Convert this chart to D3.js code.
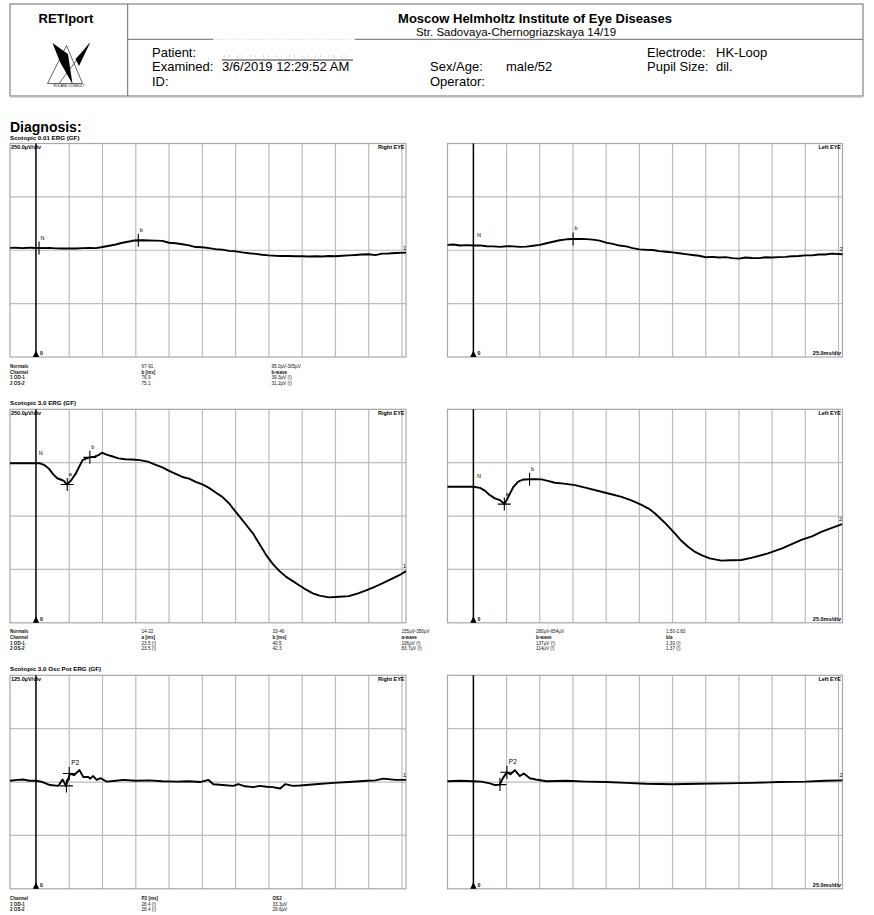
<!DOCTYPE html>
<meta charset="utf-8">

<style>
	body { margin:0; background:#fff; }
	svg text { font-family: Arial, "Liberation Sans", sans-serif; }
</style>

<script src="https://d3js.org/d3.v7.min.js"></script>

<body>
<svg id="page" width="874" height="915"></svg>

<script>
	// ---- data ----
	var protocols = ["Scotopic 0.01 ERG (GF)", "Scotopic 3.0 ERG (GF)", "Scotopic 3.0 Osc Pot ERG (GF)"];
	var sensitivity = [250, 250, 125]; // uV per division
	var timeTicks = [25, 50, 75, 100, 125, 150, 175, 200, 225, 250, 275]; // ms, 25 ms/div

	// traces as [ms, uV]
	var od001 = [[-19.5,11],[-15,12],[-10,10],[-5,12],[0,11],[5,10],[10,11],[15,9],[20,8],[25,9],[30,8],[35,10],[40,11],[45,10],[50,15],[55,21],[60,27],[65,35],[70,41],[75,46],[80,47],[85,46],[90,45],[95,44],[100,35],[105,33],[110,28],[115,23],[120,15],[125,14],[130,10],[135,5],[140,3],[145,-3],[150,-5],[155,-10],[160,-14],[165,-17],[170,-21],[175,-24],[180,-26],[185,-27],[190,-27],[195,-28],[200,-28],[205,-29],[210,-28],[215,-29],[220,-27],[225,-28],[230,-26],[235,-24],[240,-22],[245,-20],[250,-19],[255,-23],[260,-16],[265,-15],[270,-13],[278,-11]];
	var os001 = [[-19.5,25],[-15,27],[-10,22],[-5,24],[0,22],[5,23],[10,19],[15,18],[20,16],[25,19],[30,18],[35,16],[40,17],[45,21],[50,25],[55,33],[60,40],[65,47],[70,51],[75,53],[80,53],[85,52],[90,50],[95,45],[100,36],[105,30],[110,22],[115,18],[120,10],[125,4],[130,2],[135,1],[140,-4],[145,-7],[150,-10],[155,-14],[160,-18],[165,-22],[170,-26],[175,-33],[180,-31],[185,-34],[190,-32],[195,-37],[200,-39],[205,-34],[210,-36],[215,-37],[220,-33],[225,-34],[230,-32],[235,-31],[240,-28],[245,-27],[250,-24],[255,-24],[260,-20],[265,-20],[270,-16],[278,-19]];
	var od30 = [[-19.5,247],[-10,248],[0,247],[3,247],[6,240],[10,220],[13,195],[16,177],[19,170],[21,165],[23,148],[25,158],[27,172],[30,200],[32,225],[35,262],[38,270],[40.5,275],[44,278],[47,285],[49.5,297],[53,288],[57,280],[62,270],[67,266],[72,265],[78,262],[84,255],[90,240],[95,228],[100,212],[105,198],[110,183],[115,175],[120,160],[125,148],[130,132],[135,110],[140,90],[145,60],[148,36],[153,-3],[158,-42],[163,-81],[168,-132],[173,-183],[178,-225],[183,-258],[188,-285],[193,-305],[198,-325],[203,-345],[208,-362],[213,-373],[220,-381],[228,-378],[235,-375],[242,-362],[248,-348],[255,-330],[261,-313],[268,-292],[273,-277],[278,-258]];
	var os30 = [[-19.5,137],[-10,138],[0,137],[5,132],[8.6,119],[12,100],[16.2,83],[20,75],[23.3,56],[25.5,80],[27.6,106],[30,135],[33.8,161],[37,170],[41.4,172],[46,173],[51.4,172],[56,165],[61.4,156],[68,152],[76.5,145],[85,132],[96.5,114],[104,102],[111.6,90],[119,73],[126.6,52],[132,35],[136.6,13],[144,-30],[151.7,-81],[156,-112],[161.7,-144],[167,-168],[171.8,-183],[178,-198],[186.8,-209],[194,-207],[201.8,-206],[210,-195],[221.9,-175],[233,-150],[247,-112],[255,-95],[262,-74],[270,-55],[277.7,-37.5]];
	var odOsc = [[-19.5,3],[-14,5],[-9.5,6],[-5,3],[0,3],[5,0],[10.5,-7],[16.8,-9],[20,6],[22.6,-9],[25.6,20],[28.6,16],[32.6,28],[35.6,12],[39.3,12],[40.6,8],[43,14],[45.6,5],[48.6,9],[53.2,1],[60,3],[65.6,5],[75,3],[85,4],[95,2],[105.8,1],[115,2],[123.3,0],[129.6,5],[133.3,-5],[140,-7],[148.3,-9],[152,-5],[157,-10],[163.4,-12],[168,-9],[173.4,-11],[178,-12],[183.5,-15],[187.2,-5],[193,-9],[198.5,-8],[210,-5],[223.6,-2],[235,0],[248.6,3],[255,4],[261,8],[270,5],[278,5]];
	var osOsc = [[-19.5,2],[-10,3],[0,2],[6,1],[12.4,-3],[16.2,-7],[19.9,-6],[22,8],[25.2,23],[28,18],[31.2,28],[35,14],[38,20],[42.5,9],[47,6],[55,2],[70,3],[85,1],[100,0],[115,-2],[130,-4],[150,-5],[170,-4],[190,-3],[210,-2],[230,0],[250,1],[265,3],[278,4]];

	// markers as [label, ms, uV, cross]
	var odMarks = [
		[["N", 2.3, 10, true], ["b", 76.9, 47, true]],
		[["N", 1, 247, false], ["a", 23.5, 148, true], ["b", 40.5, 275, true]],
		[["", 22.9, -9, true], ["P2", 25, 20, true]]
	];
	var osMarks = [
		[["N", 1.5, 22, false], ["b", 75.1, 53, true]],
		[["N", 1.5, 137, false], ["a", 23.3, 56, true], ["b", 42.3, 172, true]],
		[["", 20, -6, true], ["P2", 25.2, 23, true]]
	];
	var traces = [[od001, os001], [od30, os30], [odOsc, osOsc]];

	// result tables
	var table1 = [
		["Normals", "67-91", "95.0µV-305µV"],
		["Channel", "b [ms]", "b-wave"],
		["1 OD-1", "76.9", "39.3µV (!)"],
		["2 OS-2", "75.1", "31.2µV (!)"]
	];
	var table2 = [
		["Normals", "14-22", "33-46", "155µV-350µV", "280µV-654µV", "1.50-2.60"],
		["Channel", "a [ms]", "b [ms]", "a-wave", "b-wave", "b/a"],
		["1 OD-1", "23.5 (!)", "40.5", "106µV (!)", "137µV (!)", "1.30 (!)"],
		["2 OS-2", "23.5 (!)", "42.3", "83.7µV (!)", "114µV (!)", "1.37 (!)"]
	];
	var table3 = [
		["Channel", "P2 [ms]", "OS2"],
		["1 OD-1", "28.4 (!)", "33.3µV"],
		["2 OS-2", "28.4 (!)", "29.6µV"]
	];

	var headLabels = [["Patient:", "Examined:", "ID:"], ["", "Sex/Age:", "Operator:"], ["Electrode:", "Pupil Size:", ""]];
	var headValues = [["", "3/6/2019 12:29:52 AM", ""], ["", "male/52", ""], ["HK-Loop", "dil.", ""]];

	// ---- layout ----
	var svg = d3.select("#page");
	var grid = "#bcbcbc";
	var rowTop = [143.5, 409.3, 675.3];
	var plotH = 213.5;
	var cols = [[10, 406], [447.5, 842.5]];
	var eyeName = ["Right EYE", "Left EYE"];
	var chanNo = ["1", "2"];

	// header box
	var head = svg.append("g");
	head.append("rect").attr("x", 10).attr("y", 4).attr("width", 853).attr("height", 92)
		.attr("fill", "none").attr("stroke", "#6a6a6a").attr("stroke-width", 1);
	head.append("line").attr("x1", 10).attr("x2", 863).attr("y1", 96.5).attr("y2", 96.5)
		.attr("stroke", "#b8b8b8").attr("stroke-width", 2);
	head.append("line").attr("x1", 127.7).attr("x2", 127.7).attr("y1", 4).attr("y2", 96)
		.attr("stroke", "#6a6a6a");
	head.append("line").attr("x1", 127.7).attr("x2", 213).attr("y1", 39.3).attr("y2", 39.3).attr("stroke", "#6a6a6a");
	head.append("line").attr("x1", 213).attr("x2", 355).attr("y1", 39.3).attr("y2", 39.3)
		.attr("stroke", "#d0d0d0").attr("stroke-dasharray", "1,1.5");
	head.append("line").attr("x1", 355).attr("x2", 863).attr("y1", 39.3).attr("y2", 39.3).attr("stroke", "#6a6a6a");

	head.append("text").attr("x", 66).attr("y", 22.5).attr("text-anchor", "middle")
		.attr("font-weight", "bold").attr("font-size", 13).text("RETIport");
	head.append("text").attr("x", 535).attr("y", 22.8).attr("text-anchor", "middle")
		.attr("font-weight", "bold").attr("font-size", 13).text("Moscow Helmholtz Institute of Eye Diseases");
	head.append("text").attr("x", 516).attr("y", 36.3).attr("text-anchor", "middle")
		.attr("font-size", 11.5).text("Str. Sadovaya-Chernogriazskaya 14/19");

	// logo
	var logo = head.append("g");
	logo.append("path").attr("d", "M47.5,83.5 L66.5,45.5 L82.5,83.5 Z M59,83.5 L89.5,43")
		.attr("fill", "none").attr("stroke", "#000").attr("stroke-width", 0.6);
	logo.append("path").attr("d", "M52.5,43 L68,54 L72.5,84 L60,62 Z").attr("fill", "#000");
	logo.append("path").attr("d", "M90,43 L79,66 L75.5,59 Z").attr("fill", "#000");
	logo.append("text").attr("x", 69).attr("y", 86.5).attr("text-anchor", "middle")
		.attr("font-size", 3.4).text("ROLAND CONSULT");

	var headX = [[152, 222], [430, 506], [647, 716]];
	var headY = [57.3, 71, 85.5];
	headLabels.forEach(function(col, c) {
		col.forEach(function(t, r) {
			head.append("text").attr("x", headX[c][0]).attr("y", headY[r]).attr("font-size", 13).text(t);
			head.append("text").attr("x", headX[c][1]).attr("y", headY[r]).attr("font-size", 13).text(headValues[c][r]);
		});
	});
	// redacted patient name underline
	head.append("line").attr("x1", 222).attr("x2", 353).attr("y1", 60).attr("y2", 60).attr("stroke", "#333");
	head.append("line").attr("x1", 224).attr("x2", 350).attr("y1", 56).attr("y2", 56)
		.attr("stroke", "#aaa").attr("stroke-dasharray", "1,4,1,7");

	svg.append("text").attr("x", 10).attr("y", 131.5).attr("font-weight", "bold")
		.attr("font-size", 14).text("Diagnosis:");

	// ---- panels ----
	var line = d3.line();

	rowTop.forEach(function(top, r) {
		var sens = sensitivity[r];
		svg.append("text").attr("x", 10).attr("y", top - 4).attr("font-weight", "bold")
			.attr("font-size", 6.2).text(protocols[r]);

		cols.forEach(function(cx, c) {
			var x = d3.scaleLinear().domain([-19.5, 278]).range(cx);
			var y = d3.scaleLinear().domain([-2 * sens, 2 * sens]).range([top + plotH, top]);
			var g = svg.append("g");

			g.selectAll(".vg").data(timeTicks).enter().append("line")
				.attr("x1", function(d) { return x(d); }).attr("x2", function(d) { return x(d); })
				.attr("y1", top).attr("y2", top + plotH)
				.attr("stroke", grid).attr("stroke-width", 1.2);
			g.selectAll(".hg").data([-sens, 0, sens]).enter().append("line")
				.attr("x1", cx[0]).attr("x2", cx[1])
				.attr("y1", function(d) { return y(d); }).attr("y2", function(d) { return y(d); })
				.attr("stroke", grid).attr("stroke-width", 1.2);
			g.append("rect").attr("x", cx[0]).attr("y", top).attr("width", cx[1] - cx[0]).attr("height", plotH)
				.attr("fill", "none").attr("stroke", "#a8a8a8").attr("stroke-width", 1.2);

			// stimulus line
			g.append("line").attr("x1", x(0)).attr("x2", x(0)).attr("y1", top).attr("y2", top + plotH)
				.attr("stroke", "#000").attr("stroke-width", 1.5);
			g.append("path").attr("d", "M" + (x(0) - 3.2) + "," + (top + plotH) + "l3.2,-6.5l3.2,6.5z").attr("fill", "#000");
			g.append("text").attr("x", x(0) + 4).attr("y", top + plotH - 2).attr("font-size", 5.2)
				.attr("font-weight", "bold").text("0");

			if (c === 0) {
				g.append("text").attr("x", cx[0] + 1).attr("y", top + 5.5).attr("font-size", 5.5)
					.attr("font-weight", "bold").text(sens.toFixed(1) + "µV/div");
			} else {
				g.append("text").attr("x", cx[1] - 1.5).attr("y", top + plotH - 2).attr("text-anchor", "end")
					.attr("font-size", 5.5).attr("font-weight", "bold").text("25.0ms/div");
			}
			g.append("text").attr("x", cx[1] - 1.5).attr("y", top + 5.5).attr("text-anchor", "end")
				.attr("font-size", 5.5).attr("font-weight", "bold").text(eyeName[c]);

			// trace
			var data = traces[r][c];
			line.x(function(d) { return x(d[0]); }).y(function(d) { return y(d[1]); });
			g.append("path").datum(data).attr("d", line)
				.attr("fill", "none").attr("stroke", "#000").attr("stroke-width", 1.9)
				.attr("stroke-linejoin", "round");
			var last = data[data.length - 1];
			g.append("text").attr("x", x(last[0]) - 3).attr("y", y(last[1]) - 3)
				.attr("font-size", 5.5).text(chanNo[c]);

			// markers
			var marks = (c === 0 ? odMarks : osMarks)[r];
			marks.forEach(function(m) {
				var mx = x(m[1]), my = y(m[2]);
				if (m[3]) {
					g.append("path").attr("d", "M" + (mx - 6.5) + "," + my + "h13M" + mx + "," + (my - 6.5) + "v13")
						.attr("stroke", "#000").attr("stroke-width", 1.1);
				}
				if (m[0]) {
					g.append("text").attr("x", mx + (m[0] === "P2" ? 2 : 1.5)).attr("y", my - 8.5)
						.attr("font-size", m[0] === "P2" ? 6.5 : 5.5).text(m[0]);
				}
			});
		});
	});

	// ---- tables ----
	function drawTable(rows, xs, y0, step) {
		var hdr = rows[0][0] === "Normals" ? 1 : 0;
		rows.forEach(function(row, i) {
			row.forEach(function(t, j) {
				svg.append("text").attr("x", xs[j]).attr("y", y0 + i * step)
					.attr("font-size", 4.6)
					.attr("font-weight", (j === 0 || i === hdr) ? "bold" : "normal")
					.attr("fill", "#111")
					.text(t);
			});
		});
	}
	drawTable(table1, [10, 141.5, 271.5], 367.7, 5.8);
	drawTable(table2, [10, 141.5, 272.5, 401.5, 536, 666], 633.4, 5.6);
	drawTable(table3, [10, 141.5, 272.5], 900, 5.5);
</script>
</body>
